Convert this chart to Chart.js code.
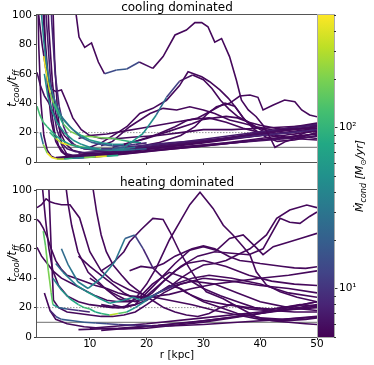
<!DOCTYPE html>
<html><head><meta charset="utf-8">
<script src="https://cdn.jsdelivr.net/npm/chart.js@4/dist/chart.umd.min.js"></script>
<style>
html,body{margin:0;padding:0;background:#fff;}
#wrap{position:relative;width:374px;height:365px;overflow:hidden;}
canvas{position:absolute;}
</style></head>
<body><div id="wrap">
<canvas id="cool" width="340" height="175" style="left:0;top:0"></canvas>
<canvas id="heat" width="340" height="190" style="left:0;top:175px"></canvas>
<canvas id="cbar" width="74" height="365" style="left:300px;top:0"></canvas>
</div>
<script>
// ---------- axis ticks / labels ----------
const radiusTicks = [10, 20, 30, 40, 50];
const tcoolTicks = [0, 20, 40, 60, 80, 100];
const mdotMajorTicks = [10, 100];
const thresholds = [10, 20];           // t_cool/t_ff reference levels
const panelTitles = ['cooling dominated', 'heating dominated'];

// ---------- cooling dominated: radius [kpc], t_cool/t_ff, Mdot_cond [Msun/yr] ----------
const coolR = [
  [0.7,1.2,1.8,2.5,3.2,4,5,6,8,10,14,18,22,26,30,34,38,42,46,50],
  [1,1.5,2.2,3,3.8,4.5,5.5,7,9,12,16,20,25,30,35,40,45,50],
  [1.5,2.3,3,3.6,4.2,5,6,7.5,9,12,16,20,25,30,35,40,45,50],
  [2.2,2.8,3.4,4,4.8,5.8,7,9,11,14,18,22,26,30,34,38,42,46,50],
  [2.8,3.3,3.9,4.6,5.4,6.4,7.5,9,11,13,16,20,24,28,32,36,40,44,48,50],
  [0.7,1.3,2,2.8,3.5,4.5,5.5,7,9,12,15,20,25,30,35,40,45,50],
  [1,1.6,2.3,3,4,5,6,7,8.5,10,12,15,18,22,26,30,35,40,45,50],
  [3.3,3.8,4.3,5,6,8,11,15,20,25,30,35,40,45,50],
  [0.7,1,1.4,1.9,2.5,3.2,4,5,6.5,8,10,13,17,22,28,34,40,45,50],
  [7.3,7.6,8.1,9.1,10.3,11.5,12.6,14.7,16.5,18.7,21.1,22.9,25,27,28.5,29.7,30.8,32,33.2,34.6,35.8,36.7,37.9,39.3,40.5,41.7,42.6,44.5,47,50],
  [10,12,14.7,16.5,18.8,21.1,23.5,25.8,27.3,29.7,31.1,32.9,34.4,35.8,37.3,38.8,41.7,45,50],
  [12,14,16,17.5,19.4,21.7,23.5,25.8,28.1,30,31.5,33,34.5,36,38,40,44,50],
  [18,22,26,28.5,30.5,32.3,34.6,36.4,38.2,39.6,40.5,42.3,44.3,46.1,47.3,48.7,50],
  [12,14,17,20.6,22.9,25.3,27.6,30,32,34.6,37,39.3,42,45,48,50],
  [14,18,22,25,27,29,31,33.8,35.5,37,39,41,43,46,50],
  [16,20,24,28,30,32,34,36,38,40,42,44,46,48,50],
  [8,10,13,16,19,22,25,28,31,34,37,40,43,46,50],
  [4,10,20,30,40,50],
  [5,10,20,30,40,50],
  [6,12,20,30,40,50],
  [8,15,25,35,45,50],
  [1.5,1.9,2.4,3,4,5,6.5,8.4,10.2,12,14,16,18,20],
  [1.9,2.2,2.6,3,3.6,4.5,5.5,7,8.5,10,12,14,16],
  [0.7,1.2,1.8,2.5,3.2,4,5,6.5,8,10,12,14,16,18],
  [3.5,4.5,5.3,6.5,7.9,9,10.6,12,13.8,15.5,17,19],
  [2,2.6,3.3,4.2,5.5,7,8.5,10,12,14,16,18,20],
  [1.3,1.8,2.5,3.3,4.2,5.5,7,9,11,13,15],
  [3,4,5,6,7.5,9,11,13,15,17]
];
const coolT = [
  [250,160,100,55,28,14,7,4,3.5,4,5.5,7,8.5,10,11.5,13,15,17,19,21],
  [300,140,80,42,20,11,6,4.5,4.5,5.5,7.5,9.5,12,14.5,17,19.5,22,24.5],
  [200,100,60,35,22,13,9,7,6.5,7,8.5,10.5,13,15.5,18,20.5,23,25.5],
  [150,90,55,33,20,12,8,6,5.5,6.5,8,10,12,14,16,18.5,21,24,26.5],
  [140,95,60,38,24,15,11,9,8,8.5,10,11.5,13,14,15.5,16.5,18,19.5,21,22],
  [61,52,45,40,34,25,18,12,9,8,8,9,10,11.5,13,14.5,16,17.5],
  [100,80,62,50,48,49,40,30,22,18,16,16,17,18,20,22,22,23,24,25],
  [130,70,35,12,5,3,3.5,5,7,9,11,13,15,17,19],
  [150,80,40,18,8,4,2.5,2.2,2.5,3,3.5,4.5,6,8,10,12.5,15,17,19],
  [110,100,85,78,81,68,60,62.6,63.3,68,63.7,71.7,86.4,89.8,94.8,94.8,92,81.5,84,71.7,55.8,42,35.4,30.8,25,17,10,14,17,20],
  [10,13,19.5,24,33,36.5,42,52,61.4,58,54.6,49,43.3,36.5,28.6,24,21,22,24],
  [9,9,10,14,19.5,32,44,55,59.2,56,50,42,36,31,27,25,22,23],
  [10,13,18,24,32,37.6,39.9,44.9,45.6,44,35.4,38.8,42.2,41,35.4,32,30.8],
  [11,14,24,33,36.5,35.4,37.6,35.4,33,28.6,26.3,24,22,19,17,16],
  [10,14,19,24,28,30,34,40,38,30,22,17,14,15,18],
  [12,16,21,26,29,30,31,30,27,22,18,16,17,20,22],
  [16,18,19,21,23,25,27,29,30,27,23,20,18,16,15],
  [3,5,9,14,19,24],
  [2.5,4.5,8.5,13,18,23],
  [4,6,9.5,14,19.5,26],
  [6,8,12,16,20,22],
  [100,82,66,52,40,31,24,17,13.5,12,11,11,12,13],
  [72,64,55,47,40,34,28,22,18,15,13,12,12],
  [38,32,27,24,21,18,15,12,10,9,8.5,8.5,9,10],
  [40,32,26,21,18.4,17.5,17.2,16.5,16.1,15,14,13],
  [60,45,35,27,20,15,12,10,8.5,8,8,8.5,9],
  [20,12,6,3,2,2,2.5,3,3.5,4,4.5],
  [20,16,13,12,11,10,9,8.5,8.5,9]
];
const coolM = [
  5.5, 6, 7, 5.5, 8, 6, 5.5, 5.5, 5.5,
  [5.5,5.5,5.5,5.5,5.5,5.5,14,18,14,6,5.5],
  5.5,
  [10,20,40,60,45,25,12,6,5.5],
  5.5, 5.5, 5.5, 5.5, 5.5,
  5.5, 5.5, 5.5, 5.5,
  [40,40,35,30,30,28,25,22,20,18,14,10,8,6],
  [450,420,350,200,120,100,90,80,70,60,50,40,20],
  [120,120,110,100,90,80,70,60,50,45,40,35,30,25],
  [60,80,150,200,220,200,200,180,150,100,60,30],
  [45,45,50,50,55,50,45,40,35,30,25,20,15],
  [30,200,450,450,300,100,40,200,400,80,20],
  [100,300,450,400,150,80,300,450,100,30]
];

// ---------- heating dominated ----------
const heatR = [
  [14,16,18,20,21.7,24,25.8,27.6,29.4,31.7,33.5,35.2,37,38.2,39.3,41.1,43.5,46.5,50],
  [12,14,16,17,19,21.1,22.9,24.1,25.8,27.5,29,30.5,33.5,36.4,39.3,42,45,48,50],
  [10,12,14,16,18,20,22,24,26,28,30,32,34,36,38.2,41.1,42.9,45.2,48.2,50],
  [8,10,12,14,16,18,20,23,26,29,32,35,38,40.5,43.5,45.2,47,48.7,50],
  [12,15,18,20,22,25,27.6,30,32.3,34.6,37,39,40.5,42.3,45.2,47.5,50],
  [17,19,21,23,25,28,30,32,34.6,36.4,38.2,40,42,44,46,48,50],
  [5,6.2,7.9,9.7,12,14.4,16.2,17.9,19.4,21.1,23,25,27,30,34,38,42,46,50],
  [5.7,6.2,6.8,7.9,9.7,11.5,13,15,17,19,21,24,27,30,33,36,39,42,46,50],
  [10,10.6,11.2,12,12.9,14.1,15.6,17,19,21,23,25,27,29,31,33,35,38,41,44,47,50],
  [2.3,2.8,3.2,3.6,4.5,6,8,10,12,14,16,18,20,23,26,30,35,40,45,50],
  [1.3,1.7,2.2,2.8,3.5,4.5,6,8,10,12,14,16,18,20,22,24,26,28,30,33,36,40,44,50],
  [0.7,1.5,2.3,3,3.8,5,6.5,8.2,10,12,14,17,20,24,28,32,36,40,44,48,50],
  [0.7,1.2,1.8,2.5,3.2,4,5,6,7.5,9,11,13,15,17,20,24,28,32,36,40,45,50],
  [0.7,1.5,2.5,3.5,5,7,9,11,13,15,17,19,21,23,25,27,30,34,38,42,46,50],
  [1.8,2.2,2.7,3.2,3.5,4.5,6,8,10],
  [4,5.3,7.7,9.4,11.8,13.5,15.9,17.6,19,21,23,25,28,31,35,40,45,50],
  [3.5,5,6.5,8,9,10,11,12,13.5,15,16.5,18,20,22,25,28,32,36,40,45,50],
  [3,4,5,7,9,11,13,15,18,21,24,27,30,34,38,42,46,50],
  [2,3,4,6,9,12,16,20,25,30,35,40,45,50],
  [8,15,22,30,38,45,50],
  [12,20,28,36,44,50],
  [10,20,30,40,50]
];
const heatT = [
  [22,20,26,36,47,66,78,90,98.5,87.5,76,69.4,61.4,55.8,44.4,35.4,30.8,27,24],
  [45,50,58,64.8,73,80.7,80,71.6,58,47,38,30.8,26,19.7,13.8,11,10,9,8.5],
  [40,35,30,26,24,26,30,34,40,45,49,50,52,56,60,69.4,80.7,86.4,89.8,88],
  [55,48,42,36,30,26,28,38,48,55,58,57,56,60,80.7,78,77.3,82,85],
  [22,20,22,30,38,50,59,61.4,59,67,69.4,62,56,61.4,64.8,67.5,70.5],
  [45,48,47,50,55,60,62,60,54.6,52,51.2,50,49,48,47,46.7,47.8],
  [60,49,37.6,33,40,51.2,67,69.4,60,47,40,35,30,25,22,20,19,21,24],
  [105,90,76,58,44,37.6,32,26,24,28,36,44,40,33,28,24,20,18,17,17],
  [110,100,85,69.4,58,49,42,36,30,25,20,17,15,14,16,20,22,19,18,20,22,21],
  [150,100,60,25,20,17,16,15,14,14,15,17,22,30,36,40,38,35,33,30],
  [130,100,80,60,45,35,28,24,22,21,20,20,22,25,30,35,33,28,24,20,16,13,12,14],
  [88,90,94,92,91,90,90,81,58,45,38,32,28,25,22,18,15,12,11,12,13],
  [80,78,74,68,60,52,46,42,40,38,35,33,30,28,27,29,33,36,38,40,42,45],
  [61,55,50,45,40,36,32,28,25,24,24,25,30,38,45,50,52,48,42,38,36,35],
  [72,62,45,30,22,20,19,18,17],
  [50,44,35,31,26,23,25,27,25,28,32,36,40,42,40,36,30,27],
  [40,32,26,22,20,19,17,16,15,16,17,20,25,30,35,38,36,30,24,20,18],
  [18,14,12,11,10,9.5,9,8.5,8,7.5,7.5,8,8.5,9.5,10.5,11.5,12.5,13.5],
  [30,18,12,9,7,6,5.5,6,8,10,13,16,20,24],
  [5,6,8,11,15,19,22],
  [4.5,7,10,14,18,21],
  [6,9,13,17,20]
];
const heatM = [
  5.5, 5.5, 5.5, 5.5, 5.5, 5.5,
  [25,30,35,40,35,30,20,12,8,6,5.5],
  5.5, 5.5, 5.5, 5.5, 5.5, 5.5, 5.5,
  [150,180,200,150,60,20,10,8,7],
  [25,35,50,60,55,50,45,40,30,15,8,6,5.5],
  [40,60,80,100,120,90,70,100,300,150,60,40,20,8,5.5],
  [8,15,20,20,18,15,12,10,8,6,5.5],
  5.5, 5.5, 5.5, 5.5
];

// ---------- colour map (viridis, log scale) ----------
const C_MIN = 5, C_MAX = 500;
const VIR = ['#440154','#482475','#414487','#355f8d','#2a788e','#21918c','#22a884','#44bf70','#7ad151','#bddf26','#fde725'];
function hexRgb(h){ return [1,3,5].map(i=>parseInt(h.substr(i,2),16)); }
const VIR_RGB = VIR.map(hexRgb);
function viridis(t){
  t = Math.max(0, Math.min(1, t));
  const s = t*10, i = Math.min(9, Math.floor(s)), f = s - i;
  const a = VIR_RGB[i], b = VIR_RGB[i+1];
  return 'rgb(' + a.map((v,k)=>Math.round(v + (b[k]-v)*f)).join(',') + ')';
}
function cnorm(m){ return (Math.log10(m)-Math.log10(C_MIN))/(Math.log10(C_MAX)-Math.log10(C_MIN)); }
function mAt(m, i){ return Array.isArray(m) ? m[Math.min(i, m.length-1)] : m; }

Chart.defaults.font.family = "'DejaVu Sans', sans-serif";
Chart.defaults.font.size = 10.5;
Chart.defaults.color = '#000';

// rich text helper (italic / subscripts)
function richText(ctx, parts, cx, cy, rotate){
  ctx.save();
  ctx.translate(cx, cy);
  if (rotate) ctx.rotate(-Math.PI/2);
  const fontOf = p => (p.it ? 'italic ' : '') + p.s + "px 'DejaVu Sans', sans-serif";
  let w = 0;
  parts.forEach(p => { ctx.font = fontOf(p); p.w = ctx.measureText(p.t).width; w += p.w; });
  let x = -w/2;
  ctx.fillStyle = '#000';
  ctx.textBaseline = 'alphabetic';
  ctx.textAlign = 'left';
  parts.forEach(p => { ctx.font = fontOf(p); ctx.fillText(p.t, x, 4 + (p.dy||0)); x += p.w; });
  ctx.restore();
}

const panelDecor = {
  id: 'panelDecor',
  afterDraw(chart, args, opts){
    const {ctx, chartArea: a} = chart;
    ctx.save();
    ctx.strokeStyle = '#555';
    ctx.lineWidth = 1;
    ctx.strokeRect(a.left - 0.5, a.top - 0.5, a.right - a.left + 1, a.bottom - a.top + 1);
    ctx.fillStyle = '#000';
    ctx.font = "12px 'DejaVu Sans', sans-serif";
    ctx.textAlign = 'center';
    ctx.textBaseline = 'alphabetic';
    ctx.fillText(opts.title, (a.left + a.right)/2, a.top - 4);
    ctx.restore();
    richText(ctx, [
      {t:'t', s:12, it:true}, {t:'cool', s:8.5, dy:2.5, it:true},
      {t:'/t', s:12, it:true}, {t:'ff', s:8.5, dy:2.5, it:true}
    ], 12, (a.top + a.bottom)/2, true);
  }
};

function makePanel(id, title, R, T, M, showLabels){
  const rMin = 0.7, rMax = 50;
  const ds = [];
  thresholds.forEach((th, k) => {
    ds.push({
      data: [{x:rMin, y:th}, {x:rMax, y:th}],
      borderColor: k === 0 ? '#8c8c8c' : '#9a9a9a',
      borderWidth: k === 0 ? 1.3 : 1,
      borderDash: k === 0 ? [] : [1.5, 1.5],
      pointRadius: 0, order: 3, clip: 0
    });
  });
  R.forEach((r, k) => {
    const m = M[k];
    const mx = Array.isArray(m) ? Math.max(...m) : m;
    ds.push({
      data: r.map((x, i) => ({x, y: T[k][i]})),
      borderColor: viridis(cnorm(mAt(m, 0))),
      segment: { borderColor: c => viridis(cnorm(mAt(m, c.p0DataIndex))) },
      borderWidth: 1.6, pointRadius: 0, tension: 0, fill: false, clip: 0,
      order: mx > 10 ? 1 : 2
    });
  });
  return new Chart(document.getElementById(id), {
    type: 'line',
    data: { datasets: ds },
    options: {
      responsive: false, animation: false, events: [], devicePixelRatio: 1,
      layout: { padding: { top: 15, right: 23, left: 0, bottom: 0 } },
      plugins: { legend: {display:false}, tooltip: {enabled:false}, panelDecor: { title } },
      scales: {
        x: {
          type: 'linear', min: rMin, max: rMax,
          afterBuildTicks: s => { s.ticks = radiusTicks.map(v => ({value: v})); },
          afterFit: s => { s.height = showLabels ? 28 : 13; },
          ticks: { display: showLabels, padding: -2, maxRotation: 0, autoSkip: false, color: '#000' },
          grid: { drawOnChartArea: false, drawTicks: true, tickLength: 3, tickColor: '#333' },
          border: { display: false },
          title: { display: showLabels, text: 'r [kpc]', color: '#000', padding: {top: 0, bottom: 3} }
        },
        y: {
          type: 'linear', min: 0, max: 100,
          afterBuildTicks: s => { s.ticks = tcoolTicks.map(v => ({value: v})); },
          afterFit: s => { s.width = 37; },
          ticks: { padding: 2, color: '#000' },
          grid: { drawOnChartArea: false, drawTicks: true, tickLength: 3, tickColor: '#333' },
          border: { display: false }
        }
      }
    },
    plugins: [panelDecor]
  });
}

makePanel('cool', panelTitles[0], coolR, coolT, coolM, false);
makePanel('heat', panelTitles[1], heatR, heatT, heatM, true);

// ---------- colour bar ----------
const cbarTickValues = [];
for (let d = 1; d <= 100; d *= 10) for (let k = 1; k <= 9; k++) {
  const v = k*d; if (v >= C_MIN && v <= C_MAX) cbarTickValues.push(v);
}
const cbarPlugin = {
  id: 'cbarPlugin',
  beforeDatasetsDraw(chart){
    const {ctx, chartArea: a} = chart;
    const g = ctx.createLinearGradient(0, a.bottom, 0, a.top);
    VIR.forEach((c, i) => g.addColorStop(i/(VIR.length-1), c));
    ctx.save();
    ctx.fillStyle = g;
    ctx.fillRect(a.left, a.top, a.right - a.left, a.bottom - a.top);
    ctx.strokeStyle = '#aaa';
    ctx.lineWidth = 1;
    ctx.strokeRect(a.left - 0.5, a.top - 0.5, a.right - a.left + 1, a.bottom - a.top + 1);
    const sc = chart.scales.y;
    ctx.strokeStyle = '#333';
    cbarTickValues.forEach(v => {
      if (mdotMajorTicks.includes(v)) return;
      const y = Math.round(sc.getPixelForValue(v)) + 0.5;
      ctx.beginPath(); ctx.moveTo(a.right, y); ctx.lineTo(a.right + 2, y); ctx.stroke();
    });
    ctx.restore();
    richText(ctx, [
      {t:'\u1E40', s:11, it:true}, {t:'cond', s:8, dy:2.5, it:true},
      {t:' [M', s:11, it:true}, {t:'\u2299', s:8, dy:2.5}, {t:'/yr]', s:11, it:true}
    ], 59, (a.top + a.bottom)/2, true);
  }
};
new Chart(document.getElementById('cbar'), {
  type: 'scatter',
  data: { datasets: [] },
  options: {
    responsive: false, animation: false, events: [], devicePixelRatio: 1,
    layout: { padding: { left: 18, top: 15, bottom: 28, right: 0 } },
    plugins: { legend: {display:false}, tooltip: {enabled:false} },
    scales: {
      x: { display: false, min: 0, max: 1 },
      y: {
        type: 'logarithmic', position: 'right', min: C_MIN, max: C_MAX,
        afterBuildTicks: s => { s.ticks = cbarTickValues.map(v => ({value: v})); },
        afterFit: s => { s.width = 40; },
        ticks: {
          callback: v => v === 10 ? '10\u00B9' : (v === 100 ? '10\u00B2' : ''),
          padding: 1.5, autoSkip: false, maxRotation: 0, color: '#000'
        },
        grid: {
          drawOnChartArea: false, drawTicks: true, tickLength: 3.5,
          tickColor: c => (c.tick && mdotMajorTicks.includes(c.tick.value)) ? '#333' : 'rgba(0,0,0,0)'
        },
        border: { display: false }
      }
    }
  },
  plugins: [cbarPlugin]
});
</script>
</body></html>
